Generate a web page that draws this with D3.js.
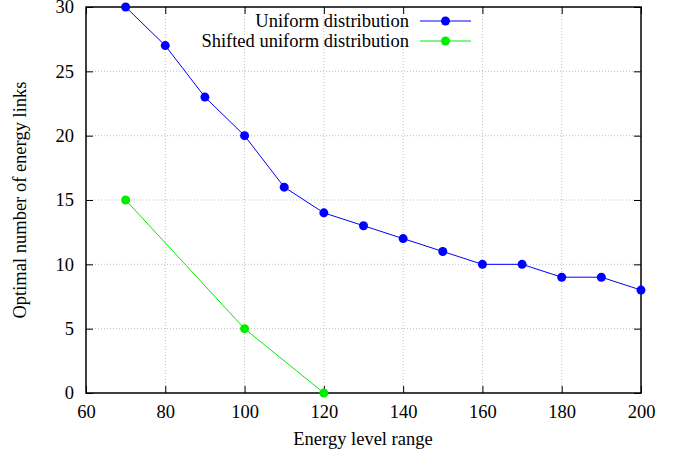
<!DOCTYPE html>
<html>
<head>
<meta charset="utf-8">
<script src="https://cdn.jsdelivr.net/npm/d3@7"></script>
<style>
  html, body { margin: 0; padding: 0; background: #fff; }
  svg text { font-family: "Liberation Serif", "DejaVu Serif", serif !important; fill: #000; }
</style>
</head>
<body>
<svg id="chart" width="685" height="456"></svg>
<script>
// Energy level ranges and the optimal link counts for each distribution
const uniformX = [70, 80, 90, 100, 110, 120, 130, 140, 150, 160, 170, 180, 190, 200];
const uniformY = [30, 27, 23, 20, 16, 14, 13, 12, 11, 10, 10, 9, 9, 8];
const shiftedX = [70, 100, 120];
const shiftedY = [15, 5, 0];
const xTicks = [60, 80, 100, 120, 140, 160, 180, 200];
const yTicks = [0, 5, 10, 15, 20, 25, 30];
const seriesNames = ["Uniform distribution", "Shifted uniform distribution"];
const seriesColors = ["#0000ff", "#00ee00"];

const svg = d3.select("#chart");
const plotL = 86, plotR = 641, plotT = 7, plotB = 393;
const fontSize = 18.5;

const x = d3.scaleLinear().domain([60, 200]).range([plotL, plotR]);
const y = d3.scaleLinear().domain([0, 30]).range([plotB, plotT]);

// dotted grid
const grid = svg.append("g").attr("stroke", "#b0b0b0").attr("stroke-width", 0.8)
  .attr("stroke-dasharray", "1,2");
xTicks.slice(1, -1).forEach(t => {
  grid.append("line").attr("x1", x(t)).attr("x2", x(t)).attr("y1", plotT).attr("y2", plotB);
});
yTicks.slice(1, -1).forEach(t => {
  grid.append("line").attr("x1", plotL).attr("x2", plotR).attr("y1", y(t)).attr("y2", y(t));
});

// axes with inward ticks, mirrored on the opposite sides
const tickLen = 7;
const axisBottom = d3.axisBottom(x).tickValues(xTicks).tickSizeInner(-tickLen).tickSizeOuter(0).tickPadding(12);
const axisLeft = d3.axisLeft(y).tickValues(yTicks).tickSizeInner(-tickLen).tickSizeOuter(0).tickPadding(12);
const axisTop = d3.axisTop(x).tickValues(xTicks).tickSizeInner(-tickLen).tickSizeOuter(0).tickFormat("");
const axisRight = d3.axisRight(y).tickValues(yTicks).tickSizeInner(-tickLen).tickSizeOuter(0).tickFormat("");

function styleAxis(g) {
  g.attr("font-family", null).attr("font-size", null);
  g.select(".domain").remove();
  g.selectAll(".tick line").attr("stroke", "#000").attr("stroke-width", 1);
  g.selectAll(".tick text").style("font-size", fontSize + "px");
}
svg.append("g").attr("transform", `translate(0,${plotB})`).call(axisBottom).call(styleAxis);
svg.append("g").attr("transform", `translate(${plotL},0)`).call(axisLeft).call(styleAxis);
svg.append("g").attr("transform", `translate(0,${plotT})`).call(axisTop).call(styleAxis);
svg.append("g").attr("transform", `translate(${plotR},0)`).call(axisRight).call(styleAxis);

svg.append("rect").attr("x", plotL).attr("y", plotT).attr("width", plotR - plotL).attr("height", plotB - plotT)
  .attr("fill", "none").attr("stroke", "#000").attr("stroke-width", 1.5);

// series
const line = d3.line().x(d => x(d[0])).y(d => y(d[1]));
const series = [
  d3.zip(uniformX, uniformY),
  d3.zip(shiftedX, shiftedY)
];
series.forEach((pts, i) => {
  svg.append("path").datum(pts).attr("d", line).attr("fill", "none")
    .attr("stroke", seriesColors[i]).attr("stroke-width", 1);
  svg.append("g").selectAll("circle").data(pts).join("circle")
    .attr("cx", d => x(d[0])).attr("cy", d => y(d[1])).attr("r", 4.5)
    .attr("fill", seriesColors[i]);
});

// legend
const legend = svg.append("g");
seriesNames.forEach((name, i) => {
  const ly = 21 + i * 20;
  legend.append("text").attr("x", 409).attr("y", ly).attr("dy", "0.35em")
    .attr("text-anchor", "end").style("font-size", fontSize + "px").text(name);
  legend.append("line").attr("x1", 420).attr("x2", 471).attr("y1", ly).attr("y2", ly)
    .attr("stroke", seriesColors[i]).attr("stroke-width", 1);
  legend.append("circle").attr("cx", 445.5).attr("cy", ly).attr("r", 4.5).attr("fill", seriesColors[i]);
});

// axis titles
svg.append("text").attr("x", 363).attr("y", 445).attr("text-anchor", "middle")
  .style("font-size", fontSize + "px").text("Energy level range");
svg.append("text").attr("transform", `translate(26,${(plotT + plotB) / 2}) rotate(-90)`)
  .attr("text-anchor", "middle").style("font-size", fontSize + "px").text("Optimal number of energy links");
</script>
</body>
</html>
